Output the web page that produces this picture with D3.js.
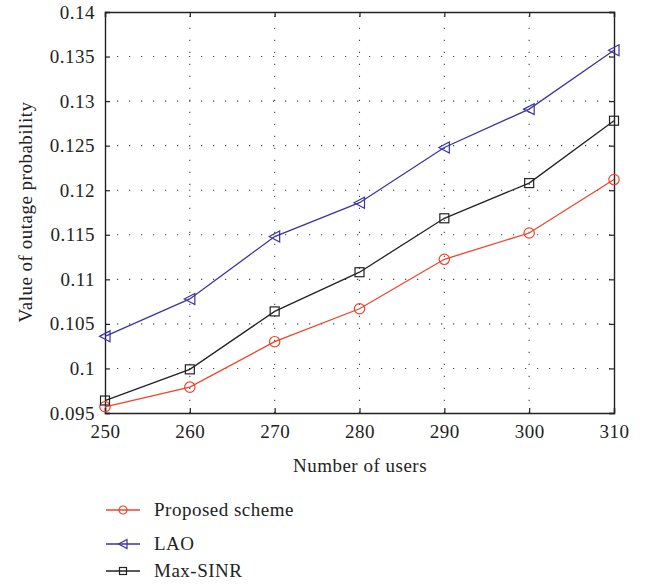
<!DOCTYPE html>
<html>
<head>
<meta charset="utf-8">
<script src="https://cdn.jsdelivr.net/npm/d3@7"></script>
<style>
  html, body { margin: 0; padding: 0; background: #fff; }
  svg { display: block; }
  text { font-family: "Liberation Serif", "DejaVu Serif", serif; fill: #222; letter-spacing: 0.5px; }
</style>
</head>
<body>
<svg id="chart" width="647" height="586"></svg>
<script>
// Number of users on the x axis
const users = [250, 260, 270, 280, 290, 300, 310];

// Outage probability for each scheme
const proposed = [0.0957, 0.0979, 0.1030, 0.1067, 0.11225, 0.1152, 0.1212];
const lao      = [0.1036, 0.1078, 0.1148, 0.1186, 0.1248, 0.1291, 0.1357];
const maxSinr  = [0.0964, 0.0999, 0.1064, 0.1108, 0.11685, 0.1208, 0.1278];

const xTicks = [250, 260, 270, 280, 290, 300, 310];
const yTicks = [0.095, 0.1, 0.105, 0.11, 0.115, 0.12, 0.125, 0.13, 0.135, 0.14];

const seriesNames = ["Proposed scheme", "LAO", "Max-SINR"];

const series = [
  { name: seriesNames[0], values: proposed, color: "#f0442a", marker: "circle" },
  { name: seriesNames[1], values: lao,      color: "#3a35a0", marker: "triangle" },
  { name: seriesNames[2], values: maxSinr,  color: "#222222", marker: "square" }
];

const FONT = "19px";
const svg = d3.select("#chart");
const plotL = 105, plotR = 614, plotT = 12, plotB = 413;

const x = d3.scaleLinear().domain([250, 310]).range([plotL, plotR]);
const y = d3.scaleLinear().domain([0.095, 0.14]).range([plotB, plotT]);

// dotted grid
const grid = svg.append("g").attr("stroke", "#444").attr("stroke-width", 1.1)
  .attr("stroke-dasharray", "1.2,10.8");
grid.selectAll("line.v").data(xTicks.slice(1, -1)).join("line")
  .attr("class", "v")
  .attr("x1", d => x(d)).attr("x2", d => x(d))
  .attr("y1", plotB).attr("y2", plotT);
grid.selectAll("line.h").data(yTicks.slice(1, -1)).join("line")
  .attr("class", "h")
  .attr("x1", plotL).attr("x2", plotR)
  .attr("y1", d => y(d)).attr("y2", d => y(d));

// axes with inward ticks
const fmtY = d => String(+d.toFixed(3));
const axB = svg.append("g").attr("transform", `translate(0,${plotB})`)
  .call(d3.axisBottom(x).tickValues(xTicks).tickSize(-5).tickPadding(12).tickFormat(d3.format("d")));
const axT = svg.append("g").attr("transform", `translate(0,${plotT})`)
  .call(d3.axisTop(x).tickValues(xTicks).tickSize(-5).tickFormat(""));
const axL = svg.append("g").attr("transform", `translate(${plotL},0)`)
  .call(d3.axisLeft(y).tickValues(yTicks).tickSize(-5).tickPadding(10).tickFormat(fmtY));
const axR = svg.append("g").attr("transform", `translate(${plotR},0)`)
  .call(d3.axisRight(y).tickValues(yTicks).tickSize(-5).tickFormat(""));

[axB, axT, axL, axR].forEach(g => {
  g.select(".domain").attr("stroke", "#222").attr("stroke-width", 1.4);
  g.selectAll(".tick line").attr("stroke", "#222").attr("stroke-width", 1.2);
  g.selectAll("text").style("font-family", "Liberation Serif, DejaVu Serif, serif")
    .style("font-size", FONT).attr("fill", "#222");
});

// axis titles
svg.append("text").attr("x", 360).attr("y", 472).attr("text-anchor", "middle")
  .style("font-size", FONT).text("Number of users");
svg.append("text").attr("transform", "translate(32,212) rotate(-90)")
  .attr("text-anchor", "middle").style("font-size", FONT)
  .text("Value of outage probability");

// markers
function drawMarker(g, type, color) {
  if (type === "circle") {
    g.append("circle").attr("r", 5.2).attr("fill", "none")
      .attr("stroke", color).attr("stroke-width", 1.2);
  } else if (type === "triangle") {
    g.append("path").attr("d", "M-5.5,0 L5,-5.5 L5,5.5 Z").attr("fill", "none")
      .attr("stroke", color).attr("stroke-width", 1.2);
  } else {
    g.append("rect").attr("x", -4.5).attr("y", -4.5).attr("width", 9).attr("height", 9)
      .attr("fill", "none").attr("stroke", color).attr("stroke-width", 1.2);
  }
}

const line = d3.line().x((d, i) => x(users[i])).y(d => y(d));

series.forEach(s => {
  svg.append("path").datum(s.values).attr("d", line)
    .attr("fill", "none").attr("stroke", s.color).attr("stroke-width", 1.3);
  s.values.forEach((v, i) => {
    const g = svg.append("g").attr("transform", `translate(${x(users[i])},${y(v)})`);
    drawMarker(g, s.marker, s.color);
  });
});

// legend
const legendY = [510, 544, 571];
series.forEach((s, i) => {
  const g = svg.append("g").attr("transform", `translate(0,${legendY[i]})`);
  g.append("line").attr("x1", 106).attr("x2", 140).attr("y1", 0).attr("y2", 0)
    .attr("stroke", s.color).attr("stroke-width", 1.3);
  const m = g.append("g").attr("transform", "translate(123,0)");
  if (s.marker === "circle") {
    m.append("circle").attr("r", 4).attr("fill", "none").attr("stroke", s.color).attr("stroke-width", 1.2);
  } else if (s.marker === "triangle") {
    m.append("path").attr("d", "M-4.5,0 L4,-4.5 L4,4.5 Z").attr("fill", "none")
      .attr("stroke", s.color).attr("stroke-width", 1.2);
  } else {
    m.append("rect").attr("x", -3.5).attr("y", -3.5).attr("width", 7).attr("height", 7)
      .attr("fill", "none").attr("stroke", s.color).attr("stroke-width", 1.2);
  }
  g.append("text").attr("x", 154).attr("y", 6).style("font-size", FONT).text(s.name);
});
</script>
</body>
</html>
